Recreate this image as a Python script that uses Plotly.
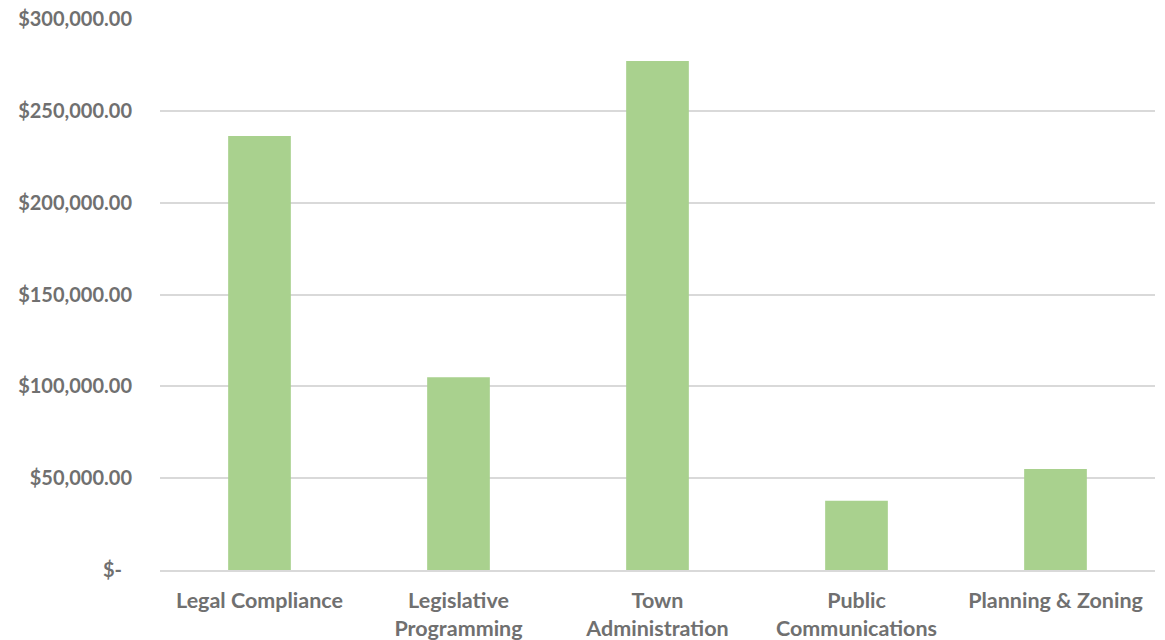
import plotly.graph_objects as go

# Department budgets
departments = [
    "Legal Compliance",
    "Legislative<br>Programming",
    "Town<br>Administration",
    "Public<br>Communications",
    "Planning & Zoning",
]
budgets = [236300, 104900, 277100, 37700, 55000]

tick_values = [0, 50000, 100000, 150000, 200000, 250000, 300000]
tick_labels = ["$-\u2002", "$50,000.00", "$100,000.00", "$150,000.00",
               "$200,000.00", "$250,000.00", "$300,000.00"]

TEXT = "#707070"
GRID = "#D9D9D9"
FONT = "Lato, Open Sans, sans-serif"

fig = go.Figure(
    go.Bar(
        x=departments,
        y=budgets,
        marker=dict(color="#A9D18E", line=dict(width=0)),
        hoverinfo="x+y",
    )
)

fig.update_layout(
    width=1165,
    height=640,
    margin=dict(l=160, r=10, t=19, b=70),
    paper_bgcolor="white",
    plot_bgcolor="white",
    bargap=0.685,
    showlegend=False,
    font=dict(family=FONT, size=20, color=TEXT, weight="bold"),
)

fig.update_xaxes(
    automargin=False,
    showgrid=False,
    showline=True,
    linecolor=GRID,
    linewidth=1.5,
    ticks="",
    tickfont=dict(family=FONT, size=21.5, color=TEXT, weight="bold"),
    ticklabelstandoff=10,
)

fig.update_yaxes(
    automargin=False,
    range=[0, 300000],
    tickvals=tick_values,
    ticktext=tick_labels,
    showgrid=True,
    gridcolor=GRID,
    gridwidth=1.5,
    zeroline=False,
    showline=False,
    ticks="",
    ticklabelstandoff=27,
    tickfont=dict(family=FONT, size=20, color=TEXT, weight="bold"),
)

fig.write_html("out.html")
